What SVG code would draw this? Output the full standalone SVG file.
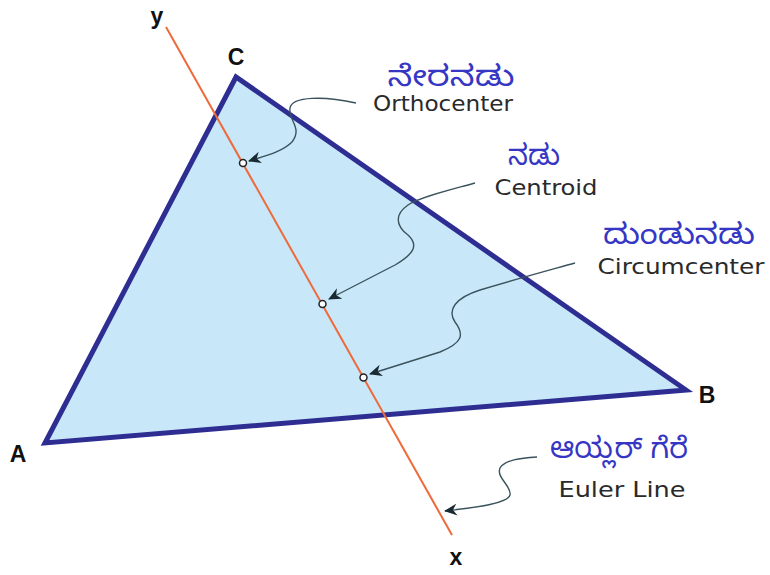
<svg xmlns="http://www.w3.org/2000/svg" width="770" height="575" viewBox="0 0 770 575">
<style>
.kn{font-family:"Noto Sans Kannada","Noto Sans","Lohit Kannada","Tunga",sans-serif;font-size:29px;fill:#3636c4;text-anchor:middle}
.en{font-family:"DejaVu Sans Condensed","DejaVu Sans",sans-serif;font-size:22px;fill:#2a2a2a;text-anchor:middle}
.vl{font-family:"Liberation Sans",Arial,sans-serif;font-size:23px;font-weight:bold;fill:#111;text-anchor:middle}
.con{fill:none;stroke:#3a525c;stroke-width:1.4;marker-end:url(#ah)}
.pt{fill:#fff;stroke:#222;stroke-width:1.5}
</style>
<defs>
<marker id="ah" markerWidth="14" markerHeight="12" refX="12" refY="6" orient="auto" markerUnits="userSpaceOnUse">
<path d="M0,0 L13,6 L0,12 L4,6 z" fill="#1a2a33"/>
</marker>
</defs>
<rect width="770" height="575" fill="#fff"/>
<g id="triangle">
<polygon points="45,443 236,77 686,390" fill="#c8e8fa" stroke="#2e2e92" stroke-width="5" stroke-linejoin="miter"/>
</g>
<g id="euler-line">
<line x1="166" y1="27" x2="452" y2="535" stroke="#ee6a3a" stroke-width="2"/>
</g>
<g id="connectors">
<path class="con" d="M356,103 C325,96 292,96 290,108 C288,120 303,128 292,142 C282,152 265,156 249,161"/>
<path class="con" d="M475,183 C450,190 420,197 408,205 C395,214 395,225 408,235 C420,246 412,255 395,265 L329,299"/>
<path class="con" d="M575,263 C550,270 520,278 480,290 C455,298 447,310 455,322 C465,335 462,343 440,352 L370,374"/>
<path class="con" d="M537,457 C520,458 505,460 500,468 C496,478 512,486 510,495 C508,503 480,507 445,511"/>
</g>
<g id="orthocenter">
<circle class="pt" cx="243" cy="163" r="3.5"/>
<text class="kn" x="451" y="86" textLength="127" lengthAdjust="spacingAndGlyphs">ನೇರನಡು</text>
<text class="en" x="443" y="111" textLength="140" lengthAdjust="spacingAndGlyphs">Orthocenter</text>
</g>
<g id="centroid">
<circle class="pt" cx="322.5" cy="304" r="3.5"/>
<text class="kn" x="534" y="165" textLength="52" lengthAdjust="spacingAndGlyphs">ನಡು</text>
<text class="en" x="546" y="195" textLength="103" lengthAdjust="spacingAndGlyphs">Centroid</text>
</g>
<g id="circumcenter">
<circle class="pt" cx="363.5" cy="377.5" r="3.5"/>
<text class="kn" x="679" y="244" textLength="152" lengthAdjust="spacingAndGlyphs">ದುಂಡುನಡು</text>
<text class="en" x="681" y="274" textLength="167" lengthAdjust="spacingAndGlyphs">Circumcenter</text>
</g>
<g id="euler-label">
<text class="kn" x="619" y="458" textLength="138" lengthAdjust="spacingAndGlyphs">ಆಯ್ಲರ್ ಗೆರೆ</text>
<text class="en" x="622" y="497" textLength="127" lengthAdjust="spacingAndGlyphs">Euler Line</text>
</g>
<g id="vertex-labels">
<text class="vl" x="157" y="24">y</text>
<text class="vl" x="236" y="65">C</text>
<text class="vl" x="707" y="403">B</text>
<text class="vl" x="18" y="462">A</text>
<text class="vl" x="456" y="565">x</text>
</g>
</svg>
